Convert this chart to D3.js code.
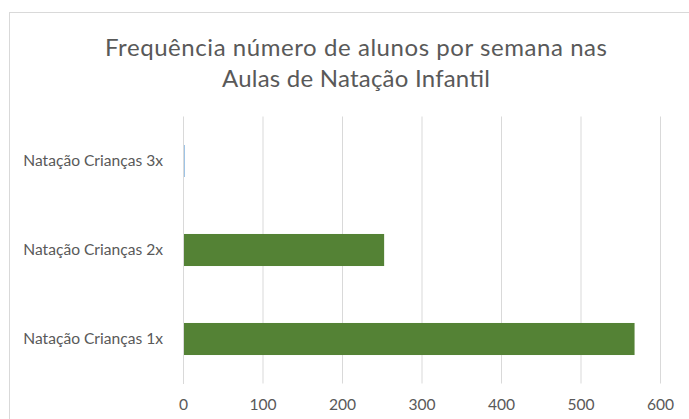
<!DOCTYPE html>
<html>
<head>
<meta charset="utf-8">
<script src="https://cdn.jsdelivr.net/npm/d3@7"></script>
<style>
body { margin: 0; background: #fff; }
text { font-family: Lato, "Open Sans", sans-serif; fill: #595959; }
</style>
</head>
<body>
<script>
var width = 689;
var height = 419;

var titleLines = ["Frequência número de alunos por semana nas", "Aulas de Natação Infantil"];
var categories = ["Natação Crianças 3x", "Natação Crianças 2x", "Natação Crianças 1x"];
var values = [2, 253, 568];
var barColors = ["#5b9bd5", "#548235", "#548235"];
var ticks = [0, 100, 200, 300, 400, 500, 600];

var plot = {left: 183, right: 660, top: 116.5, bottom: 383.5};
var labelFont = 15.6;

var x = d3.scaleLinear().domain([0, 600]).range([plot.left, plot.right]);
var y = d3.scaleBand()
    .domain(categories)
    .range([plot.top, plot.bottom])
    .paddingInner(0.64)
    .paddingOuter(0.32);

var svg = d3.select("body")
    .append("svg")
    .attr("width", width)
    .attr("height", height)
;

// chart frame, runs off the right and bottom edges
svg.append("rect")
    .attr("x", 9.5)
    .attr("y", 12.5)
    .attr("width", 700)
    .attr("height", 420)
    .attr("fill", "none")
    .attr("stroke", "#d9d9d9")
;

svg.append("g")
    .selectAll("text")
    .data(titleLines)
    .enter().append("text")
    .attr("x", 356)
    .attr("y", (d, i) => 56 + i * 31)
    .attr("text-anchor", "middle")
    .attr("font-size", 24)
    .attr("textLength", (d, i) => i == 0 ? 502 : 268)
    .attr("lengthAdjust", "spacing")
    .text(d => d)
;

// gridlines
svg.append("g")
    .attr("class", "grid")
    .attr("transform", `translate(0, ${plot.bottom})`)
    .call(d3.axisBottom(x).tickValues(ticks).tickSize(-(plot.bottom - plot.top)).tickFormat(""))
    .call(g => g.select(".domain").remove())
    .call(g => g.selectAll("line").attr("stroke", "#d9d9d9"))
;

var xAxis = svg.append("g")
    .attr("transform", `translate(0, ${plot.bottom})`)
    .call(d3.axisBottom(x).tickValues(ticks).tickSize(0).tickPadding(15))
;
xAxis.select(".domain").remove();
xAxis.selectAll("text")
    .attr("font-size", labelFont)
    .attr("font-family", "Lato, 'Open Sans', sans-serif")
    .attr("fill", "#595959")
;

svg.append("g")
    .selectAll("rect")
    .data(values)
    .enter().append("rect")
    .attr("x", x(0))
    .attr("y", (d, i) => y(categories[i]))
    .attr("width", d => x(d) - x(0))
    .attr("height", y.bandwidth())
    .attr("fill", (d, i) => barColors[i])
;

var yAxis = svg.append("g")
    .attr("transform", `translate(${plot.left}, 0)`)
    .call(d3.axisLeft(y).tickSize(0).tickPadding(20))
;
yAxis.select(".domain").attr("stroke", "#d9d9d9");
yAxis.selectAll("text")
    .attr("font-size", labelFont)
    .attr("font-family", "Lato, 'Open Sans', sans-serif")
    .attr("fill", "#595959")
;
</script>
</body>
</html>
